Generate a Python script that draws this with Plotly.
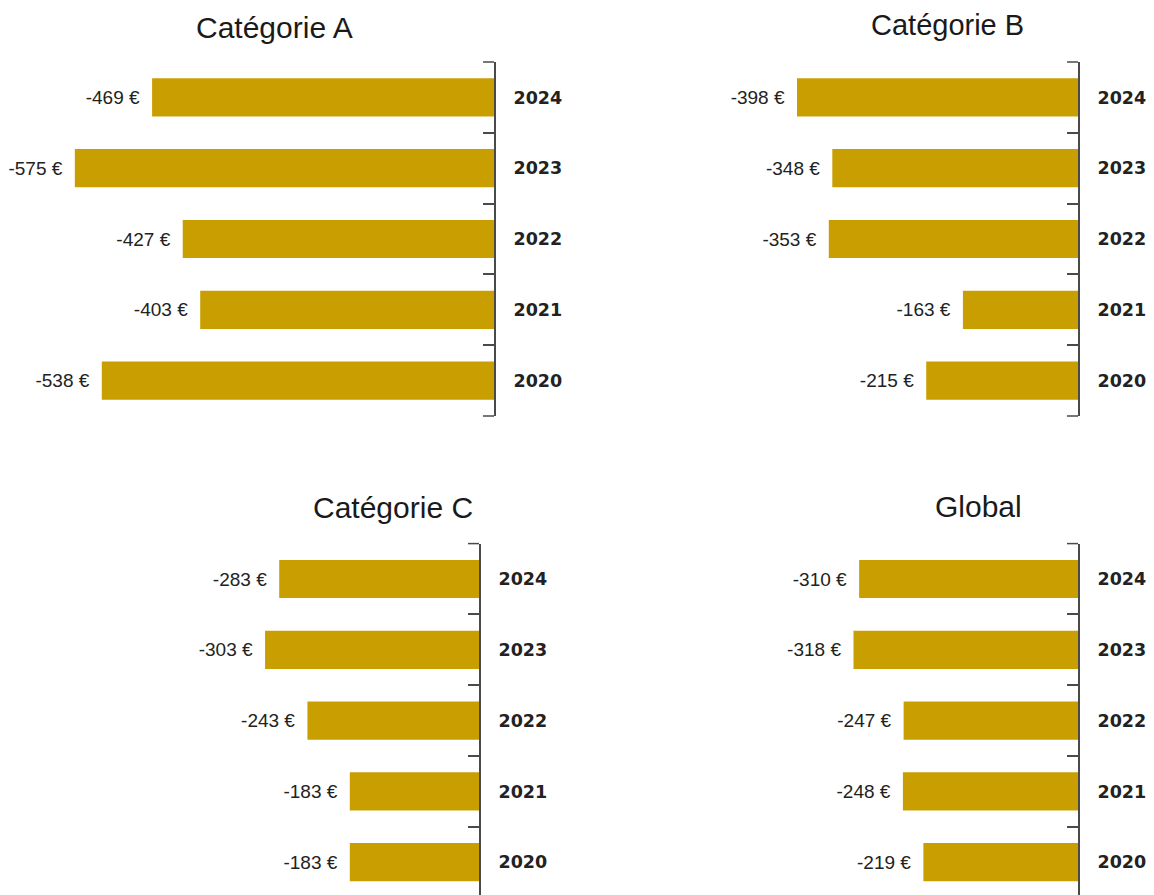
import plotly.graph_objects as go

# ---- data ----
years = ["2020", "2021", "2022", "2023", "2024"]
cat_a = [-538, -403, -427, -575, -469]
cat_b = [-215, -163, -353, -348, -398]
cat_c = [-183, -183, -243, -303, -283]
cat_global = [-219, -248, -247, -318, -310]
titles = ["Catégorie A", "Catégorie B", "Catégorie C", "Global"]
series = [cat_a, cat_b, cat_c, cat_global]

# ---- layout (pixels, page coordinates; page body has an 8px margin) ----
OFF = 8
W, H = 1154 - OFF, 895 - OFF
BAR_COLOR = "#C99E00"
AXIS_COLOR = "#4a4a4a"
TICKLEN = 11

x_domains_px = [(56.6, 494), (654.4, 1078), (55.4, 479), (654.4, 1078)]
y_domains_px = [(62, 416), (62, 416), (543.6, 895), (543.6, 895)]
y_ranges = [[-0.5, 4.5], [-0.5, 4.5], [-0.463, 4.5], [-0.463, 4.5]]
end_ticks = [(0, 1), (0, 1), (1,), (1,)]
title_pos_px = [(274, 28), (947.5, 25), (392.5, 507.5), (978, 506)]
title_size = [30, 29, 30, 30]


def px_x(p):
    return (p - OFF) / W


def px_y(p):
    return 1 - (p - OFF) / H


fig = go.Figure()

for i, vals in enumerate(series):
    n = "" if i == 0 else str(i + 1)
    fig.add_trace(go.Bar(
        x=vals, y=years, orientation="h",
        xaxis="x" + n, yaxis="y" + n,
        marker=dict(color=BAR_COLOR, line=dict(width=0)),
        width=0.54,
        text=[f"{v} €\u2002" for v in vals],
        textposition="outside",
        constraintext="none",
        cliponaxis=False,
        textfont=dict(family="Liberation Sans, Arial, sans-serif", size=19, color="#222222"),
        showlegend=False,
    ))
    x0, x1 = x_domains_px[i]
    yt, yb = y_domains_px[i]
    fig.update_layout(**{
        "xaxis" + n: dict(
            domain=[px_x(x0), px_x(x1)], range=[-600, 0], visible=False,
            anchor="y" + n,
        ),
        "yaxis" + n: dict(
            domain=[max(0, px_y(yb)), px_y(yt)],
            range=y_ranges[i],
            type="category",
            categoryorder="array", categoryarray=years,
            side="right", anchor="x" + n,
            showline=True, linecolor=AXIS_COLOR, linewidth=2,
            ticks="inside", ticklen=TICKLEN, tickwidth=1.5, tickcolor=AXIS_COLOR,
            tickson="boundaries",
            showgrid=False, zeroline=False,
            ticklabelstandoff=14,
            tickfont=dict(family="DejaVu Sans", size=17.5, color="#222222", weight="bold"),
        ),
    })
    # end ticks of the axis line (bracket look)
    frac = TICKLEN / (x1 - x0)
    for yd in end_ticks[i]:
        fig.add_shape(
            type="line", xref=f"x{n} domain", yref=f"y{n} domain",
            x0=1 - frac, x1=1, y0=yd, y1=yd,
            line=dict(color=AXIS_COLOR, width=1.5),
        )
    tx, ty = title_pos_px[i]
    fig.add_annotation(
        x=px_x(tx), y=px_y(ty), xref="paper", yref="paper",
        text=titles[i], showarrow=False, xanchor="center", yanchor="middle",
        font=dict(family="Liberation Sans, Arial, sans-serif", size=title_size[i], color="#1a1a1a"),
    )

fig.update_layout(
    width=W, height=H,
    margin=dict(l=0, r=0, t=0, b=0),
    paper_bgcolor="white", plot_bgcolor="white",
    barmode="group",
)

fig.write_html("out.html")
